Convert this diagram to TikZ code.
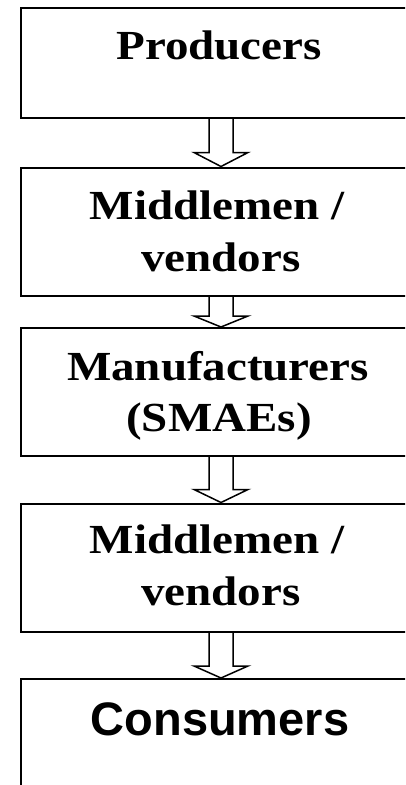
\documentclass[tikz,border=0pt]{standalone}
\usepackage{fontspec}
\setmainfont{Liberation Serif}
\newfontfamily\arialfont{Liberation Sans}
\usetikzlibrary{calc}
\newcommand{\squash}[1]{\scalebox{1}[0.88]{#1}}
\tikzset{
  box/.style={draw, line width=2pt, rectangle, minimum width=400pt, inner sep=0pt},
  lbl/.style={anchor=base, inner sep=0pt, font=\fontsize{47}{56}\selectfont\bfseries},
  sanslbl/.style={anchor=base, inner sep=0pt, font=\arialfont\fontsize{47}{56}\selectfont\bfseries},
  arrowline/.style={draw, line width=1.5pt, line join=miter}
}
\newcommand{\blockarrow}[3]{%
  \draw[arrowline] let \p1=(#1.south), \p2=(#2.north) in
    (\x1-12pt,\y1) -- (\x1-12pt,\y2+#3) -- (\x1-27pt,\y2+#3) -- (\x2,\y2)
    -- (\x1+27pt,\y2+#3) -- (\x1+12pt,\y2+#3) -- (\x1+12pt,\y1);}
\begin{document}
\begin{tikzpicture}[x=1pt,y=1pt]
\useasboundingbox (0,0) rectangle (405,-785);
\clip (0,0) rectangle (405,-785);
% boxes
\node[box, minimum height=110pt] (b1) at (221,-62.5) {};
\node[box, minimum height=128pt] (b2) at (221,-231.5) {};
\node[box, minimum height=128pt] (b3) at (221,-392) {};
\node[box, minimum height=128pt] (b4) at (221,-567.5) {};
\node[box, minimum height=141pt] (b5) at (221,-749.5) {};
% texts
\node[lbl] (t1) at (219,-59.3) {\squash{Producers}};
\node[lbl] (t2a) at (217,-219.3) {\squash{Middlemen /}};
\node[lbl] (t2b) at (221,-271.7) {\squash{vendors}};
\node[lbl] (t3a) at (218,-380) {\squash{Manufacturers}};
\node[lbl] (t3b) at (219,-431.7) {\squash{(SMAEs)}};
\node[lbl] (t4a) at (217,-553.3) {\squash{Middlemen /}};
\node[lbl] (t4b) at (221,-605) {\squash{vendors}};
\node[sanslbl] (t5) at (220,-735) {Consumers};
% arrows
\blockarrow{b1}{b2}{14pt}
\blockarrow{b2}{b3}{11pt}
\blockarrow{b3}{b4}{13pt}
\blockarrow{b4}{b5}{12pt}
\end{tikzpicture}
\end{document}
